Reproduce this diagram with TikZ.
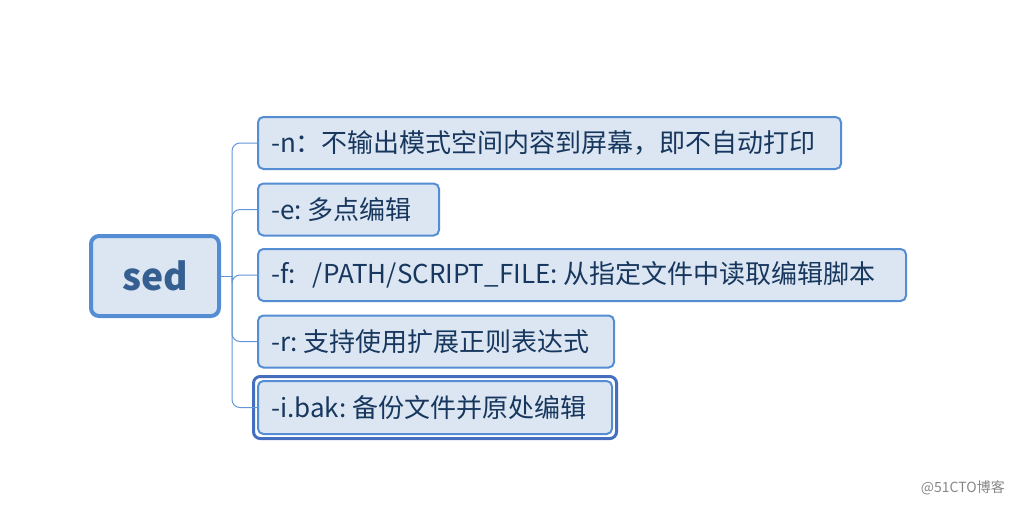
\documentclass[tikz,border=0pt]{standalone}
\usepackage{fontspec}
\setmainfont{Noto Sans CJK SC}
\definecolor{boxc}{RGB}{84,141,212}
\definecolor{fillc}{RGB}{220,230,242}
\definecolor{txtc}{RGB}{23,55,94}
\definecolor{rootc}{RGB}{54,95,145}
\definecolor{connc}{RGB}{100,150,215}
\definecolor{selc}{RGB}{70,110,190}
\newcommand\gapx{\hspace{0.22em}}
\begin{document}
\begin{tikzpicture}[x=0.75pt,y=-0.75pt,
  box/.style={draw=boxc, fill=fillc, line width=1.5pt, rounded corners=4pt,
    anchor=west, minimum height=39pt, inner xsep=9.75pt, inner ysep=0pt,
    align=left, text=txtc, font=\fontsize{19.5}{23}\selectfont},
  rootbox/.style={draw=boxc, fill=fillc, line width=3pt, rounded corners=6pt,
    minimum width=96pt, minimum height=60pt, text=rootc,
    font=\fontsize{28}{32}\selectfont\bfseries},
  conn/.style={draw=connc, line width=0.75pt, rounded corners=6pt},
  selring/.style={draw=selc, line width=2.25pt, rounded corners=5pt}]
\useasboundingbox (0,0) rectangle (1016,507);

\node[rootbox] (root) at (155,276) {sed};

\node[box, text width=417.75pt] (n) at (257,143) {-n：不输出模式空间内容到屏幕，即不自动打印};
\node[box, text width=116.25pt] (e) at (257,209.5) {-e:\gapx 多点编辑};
\node[box, text width=466.5pt] (f) at (257,275) {-f:\gapx\gapx\gapx /PATH/SCRIPT\_FILE:\gapx 从指定文件中读取编辑脚本};
\node[box, text width=247.5pt] (r) at (257,341.5) {-r:\gapx 支持使用扩展正则表达式};
\node[box, text width=246pt, minimum height=39.75pt] (i) at (257,407.5) {-i.bak:\gapx 备份文件并原处编辑};
\draw[selring] ([shift={(-3.5,-3.5)}]i.north west) rectangle ([shift={(3.5,3.5)}]i.south east);

\coordinate (trunk) at (232,276);
\draw[conn] (root.east) -- (trunk);
\draw[conn] (trunk) |- (n.west);
\draw[conn] (trunk) |- (e.west);
\draw[conn] (trunk) |- (f.west);
\draw[conn] (trunk) |- (r.west);
\draw[conn] (trunk) |- (i.west);

\node[text=gray!95, font=\fontsize{10.5}{12}\selectfont, anchor=east, inner sep=0pt] (wm) at (1005,488) {@51CTO博客};
\end{tikzpicture}
\end{document}
